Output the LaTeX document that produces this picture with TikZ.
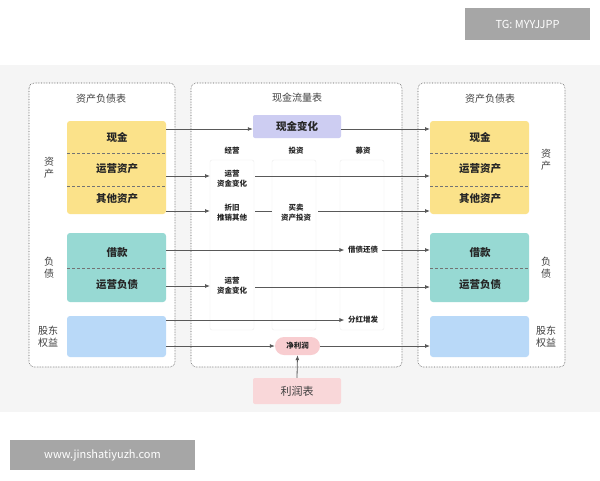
\documentclass[tikz,border=0pt]{standalone}
\usepackage{fontspec}
\setmainfont{Noto Sans CJK SC}
\definecolor{yel}{HTML}{FBE28A}
\definecolor{tea}{HTML}{97D9D3}
\definecolor{blu}{HTML}{B9D9F8}
\definecolor{pur}{HTML}{CDCDF2}
\definecolor{pnk}{HTML}{F8CDD0}
\begin{document}
\begin{tikzpicture}[x=1pt,y=-1pt,
 panel/.style={draw=gray!70!black,densely dotted,rounded corners=5pt,line width=0.6pt},
 title/.style={font=\fontsize{10}{12}\selectfont,text=black!75},
 big/.style={font=\bfseries\fontsize{10.5}{12}\selectfont,text=black!85},
 small/.style={font=\bfseries\fontsize{7.5}{10}\selectfont,text=black!85,align=center},
 side/.style={font=\fontsize{10}{12}\selectfont,text=black!75,align=center},
 col/.style={draw=black!8,fill=white,rounded corners=2pt},
 arr/.style={draw=black!65,line width=0.8pt,-{Latex[length=5pt,width=4pt]}},
 ln/.style={draw=black!65,line width=0.8pt},
 dv/.style={densely dashed,draw=black!55,line width=0.6pt}]
\usetikzlibrary{arrows.meta}
\useasboundingbox (0,0) rectangle (600,480);
\fill[white] (0,0) rectangle (600,480);
\fill[black!4] (0,65) rectangle (600,412);
\node[fill=black!35,text=white,minimum width=125pt,minimum height=32pt,font=\fontsize{11}{13}\selectfont] (tg) at (527.5,24) {TG: MYYJJPP};
\node[fill=black!35,text=white,minimum width=185pt,minimum height=30pt,font=\fontsize{11}{13}\selectfont] (www) at (102.5,455) {www.jinshatiyuzh.com};
% panels
\draw[panel,fill=white] (29,83) rectangle (175,367);
\draw[panel,fill=white] (191,83) rectangle (402,367);
\draw[panel,fill=white] (418,83) rectangle (565,367);
\node[title] (t1) at (101,99) {资产负债表};
\node[title] (t2) at (297,98) {现金流量表};
\node[title] (t3) at (490,99) {资产负债表};
% left boxes
\fill[yel,rounded corners=3pt] (67,121) rectangle (166,214);
\draw[dv] (67,153)--(166,153); \draw[dv] (67,186)--(166,186);
\fill[tea,rounded corners=3pt] (67,233) rectangle (166,302);
\draw[dv] (67,268)--(166,268);
\fill[blu,rounded corners=3pt] (67,316) rectangle (166,357);
\node[big] (lc) at (117,137) {现金};
\node[big] (lo) at (117,169) {运营资产};
\node[big] (lq) at (117,199) {其他资产};
\node[big] (lj) at (117,253) {借款};
\node[big] (lf) at (117,285) {运营负债};
\node[side] (ls1) at (49,168) {资\\产};
\node[side] (ls2) at (49,268) {负\\债};
\node[side] (ls3) at (48,337) {股东\\权益};
% right boxes
\fill[yel,rounded corners=3pt] (430,121) rectangle (529,214);
\draw[dv] (430,153)--(529,153); \draw[dv] (430,186)--(529,186);
\fill[tea,rounded corners=3pt] (430,233) rectangle (529,302);
\draw[dv] (430,268)--(529,268);
\fill[blu,rounded corners=3pt] (430,316) rectangle (529,357);
\node[big] (rc) at (480,137) {现金};
\node[big] (ro) at (480,169) {运营资产};
\node[big] (rq) at (480,199) {其他资产};
\node[big] (rj) at (480,253) {借款};
\node[big] (rf) at (480,285) {运营负债};
\node[side] (rs1) at (546,160) {资\\产};
\node[side] (rs2) at (546,268) {负\\债};
\node[side] (rs3) at (546,337) {股东\\权益};
% middle
\node[fill=pur,rounded corners=2pt,minimum width=88pt,minimum height=23pt,big] (cash) at (297,126.5) {现金变化};
\node[small] (h1) at (232,151) {经营};
\node[small] (h2) at (296,151) {投资};
\node[small] (h3) at (363,151) {募资};
\draw[col] (210,160) rectangle (254,330);
\draw[col] (272,160) rectangle (316,330);
\draw[col] (340,160) rectangle (384,330);
\node[small] (m1) at (232,179) {运营\\资金变化};
\node[small] (m2) at (232,213) {折旧\\推销其他};
\node[small] (m3) at (296,213) {买卖\\资产投资};
\node[small] (m4) at (363,250) {借债还债};
\node[small] (m5) at (232,286) {运营\\资金变化};
\node[small] (m6) at (363,320) {分红增发};
\node[fill=pnk,rounded corners=9pt,minimum width=45pt,minimum height=18pt,small] (np) at (297.5,346) {净利润};
\node[fill=pnk!80,rounded corners=2pt,minimum width=88pt,minimum height=26pt,font=\fontsize{11}{13}\selectfont,text=black!75] (is) at (297,391) {利润表};
% arrows
\draw[arr] (166,129) -- (cash.west |- 0,129);
\draw[arr] (cash.east |- 0,129) -- (430,129);
\draw[arr] (166,176) -- (210,176);
\draw[arr] (255,176) -- (430,176);
\draw[arr] (166,211) -- (210,211);
\draw[ln] (255,211) -- (272,211);
\draw[arr] (318,211) -- (430,211);
\draw[arr] (166,250) -- (m4.west |- 0,250);
\draw[arr] (m4.east |- 0,250) -- (430,250);
\draw[arr] (166,286) -- (210,286);
\draw[arr] (255,287) -- (430,287);
\draw[arr] (166,320) -- (m6.west |- 0,320);
\draw[arr] (166,346) -- (np.west);
\draw[arr] (np.east) -- (430,346);
\draw[arr] (is.north) -- (np.south);
\end{tikzpicture}
\end{document}
